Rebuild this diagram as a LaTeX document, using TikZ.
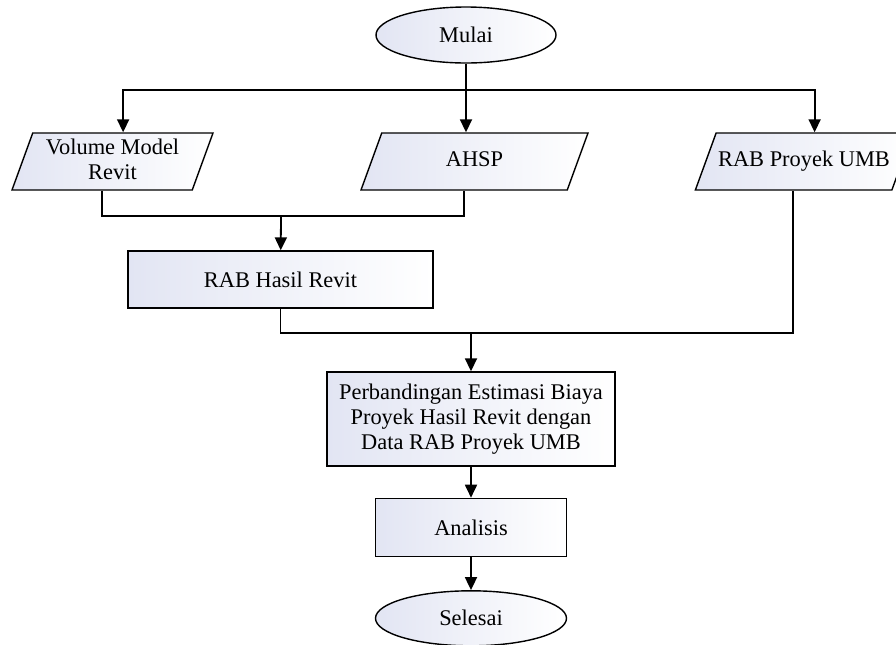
\documentclass[tikz,border=0pt]{standalone}
\usepackage{fontspec}
\setmainfont{Liberation Serif}
\usetikzlibrary{shapes.geometric, arrows.meta, positioning}
\definecolor{fillblue}{RGB}{226,229,243}

\begin{document}
\begin{tikzpicture}[x=0.5pt, y=-0.5pt, node distance=15pt and 15pt, font=\fontsize{11.2}{12.5}\selectfont]

    \tikzstyle{startstop} = [ellipse, draw, line width=0.7pt, left color=fillblue, right color=white, minimum width=90pt, minimum height=28pt, inner sep=0pt]
    \tikzstyle{io} = [trapezium, trapezium left angle=70, trapezium right angle=110, trapezium stretches body=true, draw, line width=0.7pt, left color=fillblue, right color=white, inner xsep=1pt, inner ysep=9.25pt, text height=7.6pt, text depth=2.4pt, align=center]
    \tikzstyle{process} = [rectangle, draw, line width=0.7pt, left color=fillblue, right color=white, text centered, align=center, inner sep=0pt]
    \tikzstyle{arrow} = [line width=0.9pt, -{Triangle[width=6pt,length=6.5pt]}]
    \tikzstyle{line} = [line width=0.9pt]

    \useasboundingbox (0,0) rectangle (896,644);

    \node (mulai) [startstop] at (466,35) {Mulai};
    \node (vol) [io, minimum width=100.5pt, inner ysep=3pt, text height=20.1pt] at (112.5,161.5) {Volume Model \\ Revit};
    \node (ahsp) [io, minimum width=113.5pt] at (474.5,161.5) {AHSP};
    \node (umb) [io, minimum width=102pt] at (804,161.5) {RAB Proyek UMB};
    \node (hasil) [process, minimum width=152.5pt, minimum height=28.5pt] at (280.5,279.5) {RAB Hasil Revit};
    \node (banding) [process, minimum width=144pt, minimum height=47pt] at (471,419) {Perbandingan Estimasi Biaya \\ Proyek Hasil Revit dengan \\ Data RAB Proyek UMB};
    \node (analisis) [process, minimum width=95.5pt, minimum height=29pt, below=15.5pt of banding] {Analisis};
    \node (selesai) [startstop, minimum width=95.5pt, minimum height=27.5pt, below=16.5pt of analisis] {Selesai};

    \coordinate (split) at (466,90);
    \coordinate (merge) at (281,216);
    \coordinate (merge2) at (471,333);

    \draw [line] (mulai.south) -- (split);
    \draw [arrow] (split) -| (vol.top side);
    \draw [arrow] (split) -| (umb.top side);
    \draw [arrow] (split) -- (split |- ahsp.top side);

    \draw [line] (vol.bottom side) |- (merge) -| (ahsp.bottom side);
    \draw [arrow] (merge) -- (hasil);

    \draw [line] (hasil.south) |- (merge2) -| (umb.bottom side);
    \draw [arrow] (merge2) -- (banding);
    \draw [arrow] (banding) -- (analisis);
    \draw [arrow] (analisis) -- (selesai);

\end{tikzpicture}
\end{document}
